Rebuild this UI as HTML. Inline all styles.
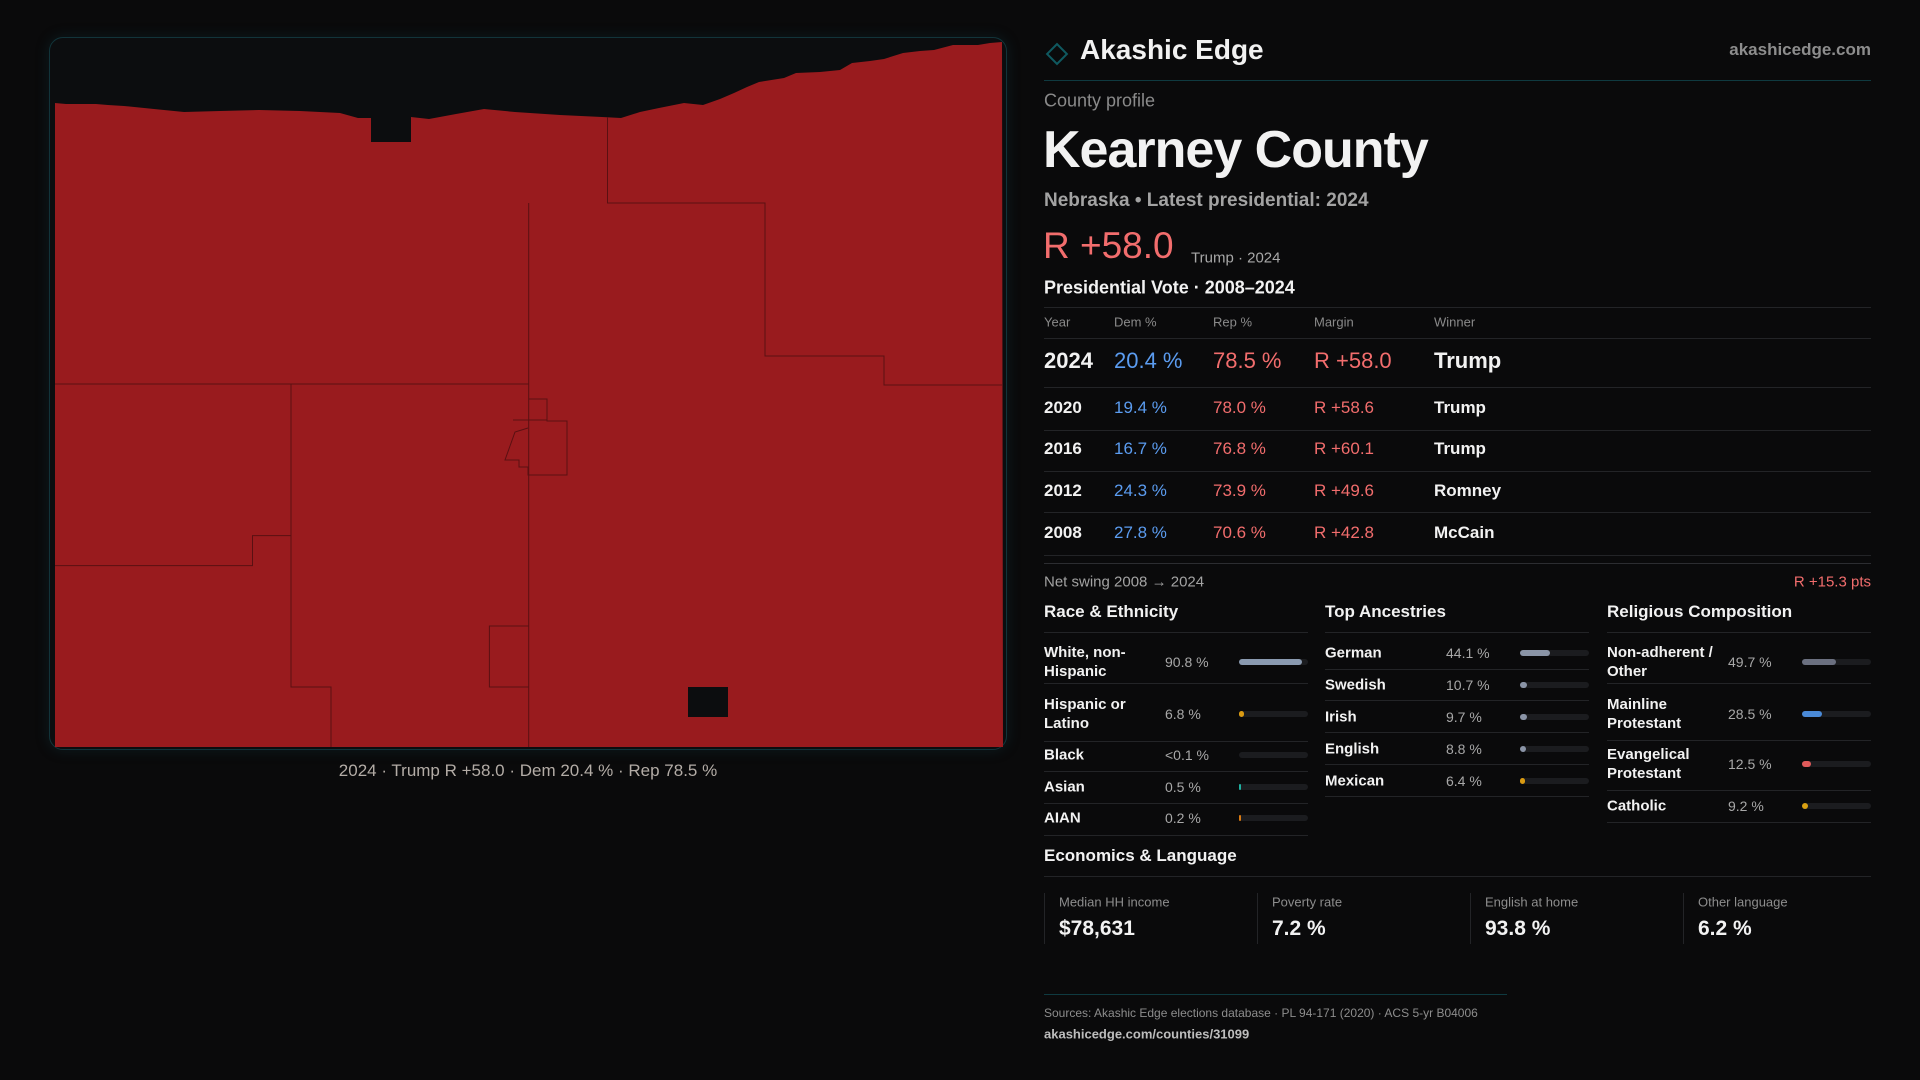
<!DOCTYPE html>
<html><head><meta charset="utf-8"><title>Kearney County</title>
<style>
*{margin:0;padding:0;box-sizing:border-box}
body{width:1920px;height:1080px;background:#0a0a0b;font-family:"Liberation Sans",sans-serif;color:#f2f2f2;position:relative;overflow:hidden}
.a{position:absolute;white-space:nowrap}
.hl{position:absolute;height:1px;background:#232427}
.mid{transform:translateY(-50%)}
</style></head><body>
<div class="a" style="left:49px;top:37px;width:958px;height:713px;border:1px solid #12343a;border-radius:14px;background:#0c0d0f;box-shadow:0 0 14px rgba(20,80,90,0.25)"></div>
<svg class="a" style="left:0;top:0" width="1020" height="760">
<path fill="#991b1e" d="M55,103 L66,104 L96,104 L108,105 L124,106 L154,109 L184,112 L220,111 L259,110 L300,111 L340,113 L358,118 L371,118 L371,142 L411,142 L411,117 L429,119 L456,114 L484,109 L515,112 L560,115 L602,117 L621,118 L640,112 L659,108 L684,103 L703,105 L720,99 L734,93 L747,87 L759,82 L784,78 L796,73 L820,72 L840,70 L852,63 L870,61 L884,59 L903,53 L920,51 L934,50 L953,45 L978,45 L990,43 L1002,42 L1003,747 L55,747 Z M688,687 L728,687 L728,717 L688,717 Z" fill-rule="evenodd"/>
<g stroke="#5a1012" stroke-width="1" fill="none">
<path d="M607.5,117 V203 H765 V356 H884 V385 H1002"/>
<path d="M528.7,203 V747"/>
<path d="M55,384 H528.7"/>
<path d="M291,384 V687 H331 V747"/>
<path d="M291,535.6 H252.5 V565.6 H55"/>
<path d="M528.7,626 H489.4 V687 H528.7"/>
<path d="M528.7,399 H547 V421 H567 V475 H528 V467 H519 V460 H505 L510,446 L515,432 L528,428 M513,420 H547"/>
</g>
</svg>
<div class="a mid" style="left:0;width:1056px;text-align:center;top:771px;font-size:17px;color:#b3aca6">2024 · Trump R +58.0 · Dem 20.4 % · Rep 78.5 %</div>

<svg class="a" style="left:1043px;top:40px" width="28" height="28"><rect x="7" y="7" width="14" height="14" transform="rotate(45 14 14)" fill="none" stroke="#0f5960" stroke-width="2"/></svg>
<div class="a mid" style="left:1080px;top:50px;font-size:28px;font-weight:bold">Akashic Edge</div>
<div class="a mid" style="right:49px;top:50px;font-size:17px;font-weight:bold;color:#8d8d8d">akashicedge.com</div>
<div class="hl" style="left:1044px;width:827px;top:80px;background:#0f3a40"></div>
<div class="a mid" style="left:1044px;top:101px;font-size:18px;color:#8a8a8a">County profile</div>
<div class="a mid" style="left:1043px;top:150px;font-size:52px;font-weight:bold;letter-spacing:-1px">Kearney County</div>
<div class="a mid" style="left:1044px;top:201px;font-size:19px;font-weight:bold;color:#a3a3a3">Nebraska • Latest presidential: 2024</div>
<div class="a mid" style="left:1043px;top:246px;font-size:37px;color:#f26d6d">R +58.0</div>
<div class="a mid" style="left:1191px;top:258px;font-size:15px;color:#a8a8a8">Trump · 2024</div>
<div class="a mid" style="left:1044px;top:288px;font-size:18px;font-weight:bold">Presidential Vote · 2008–2024</div>
<div id="table"></div>
<div class="a mid" style="left:1044px;top:582px;font-size:15px;color:#a3a3a3">Net swing 2008 → 2024</div>
<div class="a mid" style="right:49px;top:582px;font-size:15px;color:#f26d6d">R +15.3 pts</div>
<div id="demo"></div>
<div class="a mid" style="left:1044px;top:856px;font-size:17px;font-weight:bold">Economics &amp; Language</div>
<div class="hl" style="left:1044px;width:827px;top:876px"></div>
<div id="econ"></div>
<div class="hl" style="left:1044px;width:463px;top:994px;background:#0f3a40"></div>
<div class="a mid" style="left:1044px;top:1013px;font-size:12px;color:#8d8d8d">Sources: Akashic Edge elections database · PL 94-171 (2020) · ACS 5-yr B04006</div>
<div class="a mid" style="left:1044px;top:1034px;font-size:13px;font-weight:bold;color:#bdbdbd">akashicedge.com/counties/31099</div>
<script>
const years=["2024","2020","2016","2012","2008"];
const demPct=[20.4,19.4,16.7,24.3,27.8];
const repPct=[78.5,78.0,76.8,73.9,70.6];
const margins=[58.0,58.6,60.1,49.6,42.8];
const winners=["Trump","Trump","Trump","Romney","McCain"];
const raceLabels=["White, non-Hispanic","Hispanic or Latino","Black","Asian","AIAN"];
const raceValues=[90.8,6.8,0.05,0.5,0.2];
const raceText=["90.8 %","6.8 %","<0.1 %","0.5 %","0.2 %"];
const ancLabels=["German","Swedish","Irish","English","Mexican"];
const ancValues=[44.1,10.7,9.7,8.8,6.4];
const relLabels=["Non-adherent / Other","Mainline Protestant","Evangelical Protestant","Catholic"];
const relValues=[49.7,28.5,12.5,9.2];
const econLabels=["Median HH income","Poverty rate","English at home","Other language"];
const econValues=["$78,631","7.2 %","93.8 %","6.2 %"];

function mk(parent,cls,style,text){const e=document.createElement('div');e.className=cls;e.style.cssText=style;if(text!==undefined)e.textContent=text;parent.appendChild(e);return e;}
const tbl=document.getElementById('table');
const cols=[1044,1114,1213,1314,1434];
const hdr=["Year","Dem %","Rep %","Margin","Winner"];
let l=mk(tbl,'hl','left:1044px;width:827px;top:307px');


hdr.forEach((h,i)=>{const e=mk(tbl,'a mid',`left:${cols[i]}px;top:322px;font-size:13px;color:#8a8a8a`,h);

});
l=mk(tbl,'hl','left:1044px;width:827px;top:338px');


const rowY=[361,408,449,491,533],ruleY=[387,430,471,512,555];
years.forEach((y,i)=>{
 const fs=i===0?22:17;
 const vals=[y,demPct[i].toFixed(1)+' %',repPct[i].toFixed(1)+' %','R +'+margins[i].toFixed(1),winners[i]];
 const colors=['#f2f2f2','#5b9cf0','#f26d6d','#f26d6d','#f2f2f2'];
 vals.forEach((v,j)=>{const e=mk(tbl,'a mid',`left:${cols[j]}px;top:${rowY[i]}px;font-size:${fs}px;font-weight:${j===0||j===4?'bold':'normal'};color:${colors[j]}`,v);
 
 });
 const r=mk(tbl,'hl',`left:1044px;width:827px;top:${ruleY[i]}px`);
 
 
});
l=mk(tbl,'hl','left:1044px;width:827px;top:563px;background:#2c2d31');



const demo=document.getElementById('demo');
function section(x,title,labels,values,texts,rowYs,lineYs,colors,barX){
 const h=mk(demo,'a mid',`left:${x}px;top:612px;font-size:17px;font-weight:bold`,title);
 
 
 const r0=mk(demo,'hl',`left:${x}px;width:264px;top:632px`);
 
 
 labels.forEach((lab,i)=>{
  const t=mk(demo,'a mid',`left:${x}px;top:${rowYs[i]}px;font-size:15px;font-weight:bold;white-space:normal;width:${lab.length>12?112:140}px;line-height:19px`,lab);
  
  
  const v=mk(demo,'a mid',`left:${x+121}px;top:${rowYs[i]}px;font-size:14px;color:#a8a8a8`,texts[i]);
  
  
  const track=mk(demo,'a',`left:${barX}px;top:${rowYs[i]-3}px;width:69px;height:6px;border-radius:3px;background:#1b1c1f`);
  
  
  const w=Math.max(values[i]/100*69, values[i]<0.1?0:(values[i]<1?1.5:5));
  const b=mk(track,'a',`left:0;top:0;width:${w}px;height:6px;border-radius:3px;background:${colors[i]}`);
  
  
  const rl=mk(demo,'hl',`left:${x}px;width:264px;top:${lineYs[i]}px`);
  
  
 });
}
section(1044,"Race & Ethnicity",raceLabels,raceValues,raceText,[662,714,755,787,818],[683,741,771,803,835],["#8a9ab0","#d99a12","#555","#1fb0a0","#d97a12"],1239);
section(1325,"Top Ancestries",ancLabels,ancValues,ancValues.map(v=>v.toFixed(1)+' %'),[653,685,717,749,781],[669,700,732,764,796],["#8a94a6","#8a94a6","#8a94a6","#8a94a6","#d99a12"],1520);
section(1607,"Religious Composition",relLabels,relValues,relValues.map(v=>v.toFixed(1)+' %'),[662,714,764,806],[683,740,790,822],["#6b7080","#4a8ad8","#e05a5a","#d9a012"],1802);

const econ=document.getElementById('econ');
econLabels.forEach((lab,i)=>{
 const x=1044+i*213;
 const box=mk(econ,'a',`left:${x}px;top:893px;width:200px;height:51px;border-left:1px solid #232427`);
 
 
 const t=mk(econ,'a mid',`left:${x+15}px;top:902px;font-size:13px;color:#8d8d8d`,lab);
 
 
 const v=mk(econ,'a mid',`left:${x+15}px;top:929px;font-size:21px;font-weight:bold`,econValues[i]);
 
 
});
</script>
</body></html>
